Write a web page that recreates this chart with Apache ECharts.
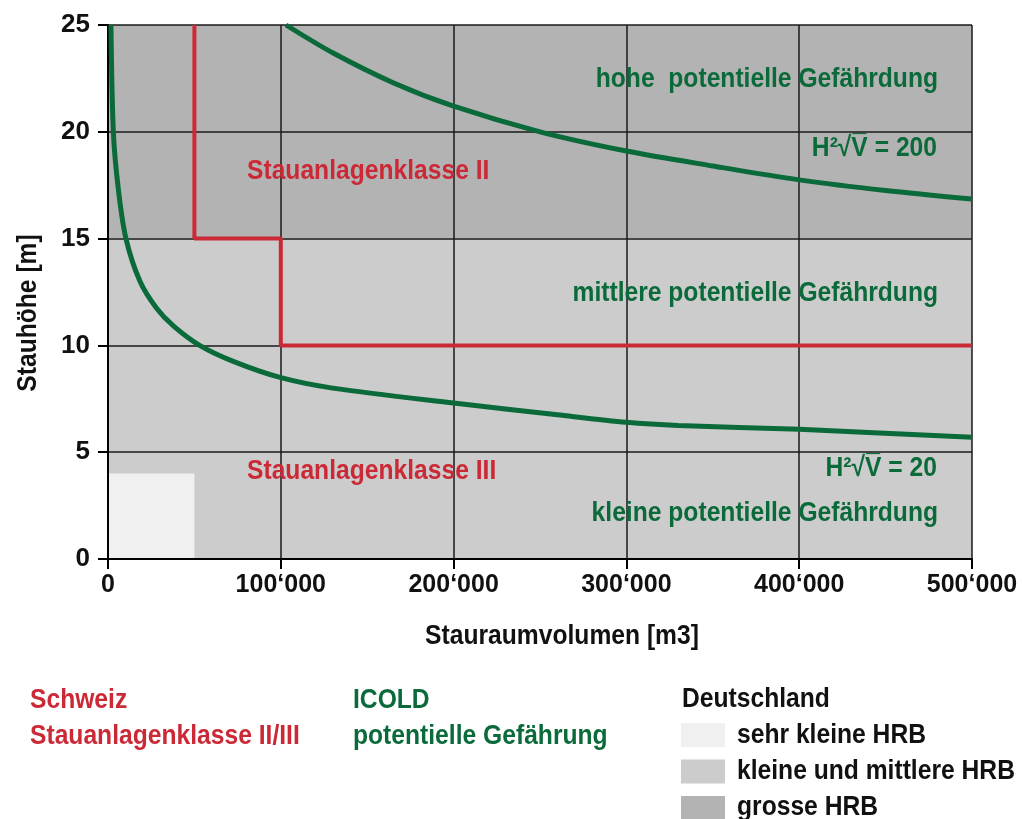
<!DOCTYPE html>
<html>
<head>
<meta charset="utf-8">
<script src="https://cdn.jsdelivr.net/npm/echarts@6/dist/echarts.min.js"></script>
<style>html,body{margin:0;padding:0;background:#fff;}#c{width:1022px;height:819px;}</style>
</head>
<body>
<div id="c"></div>
<script>
// ---- data ----
const xTicks = [0, 100000, 200000, 300000, 400000, 500000];
const yTicks = [0, 5, 10, 15, 20, 25];
// HRB zones (Deutschland): [x0, x1, y0, y1, colourIndex]
const zoneNames = ['sehr kleine HRB', 'kleine und mittlere HRB', 'grosse HRB'];
const hrbZones = [
  [0, 500000, 0, 15, 1],
  [0, 500000, 15, 25, 2],
  [0, 50000, 0, 4, 0]
];
// Schweiz Stauanlagenklasse II/III boundary
const swissBoundary = [[50000, 25], [50000, 15], [100000, 15], [100000, 10], [500000, 10]];
// ICOLD H²√V = 200
const icold200 = [[103000, 25.0], [130000, 23.7], [165000, 22.3], [200000, 21.2], [250000, 20.0], [300000, 19.1], [350000, 18.4], [400000, 17.75], [450000, 17.25], [500000, 16.85]];
// ICOLD H²√V = 20
const icold20 = [[1700, 25], [3100, 20], [6000, 17.3], [10400, 15], [18500, 13.0], [28000, 11.75], [38000, 10.9], [53000, 10.0], [72500, 9.25], [99500, 8.5], [130000, 8.0], [200000, 7.3], [260000, 6.75], [300000, 6.4], [330000, 6.25], [400000, 6.07], [500000, 5.7]];

// ---- styles ----
const FAM = '"Liberation Sans", Arial, sans-serif';
const RED = '#cc2936';
const GREEN = '#0b6a3a';
const zoneColors = ['#f0f0f0', '#cccccc', '#b3b3b3'];
const font = (s) => 'bold ' + s + 'px ' + FAM;

function txt(text, x, y, color, align, size, rot) {
  return {
    type: 'text', x: x, y: y, rotation: rot || 0, z: 50,
    scaleX: 0.88, scaleY: 1,
    style: { text: text, fill: color, font: font(size || 28), align: align || 'left', verticalAlign: 'middle' }
  };
}

const chart = echarts.init(document.getElementById('c'), null, { renderer: 'canvas' });
const graphic = [
  txt('Stauraumvolumen [m3]', 562, 636, '#111', 'center'),
  txt('Stauhöhe [m]', 28, 313, '#111', 'center', 28, Math.PI / 2),
  txt('hohe  potentielle Gefährdung', 938, 79, GREEN, 'right'),
  txt('H²√V\u0305 = 200', 937, 148, GREEN, 'right'),
  txt('mittlere potentielle Gefährdung', 938, 293, GREEN, 'right'),
  txt('H²√V\u0305 = 20', 937, 468, GREEN, 'right'),
  txt('kleine potentielle Gefährdung', 938, 513, GREEN, 'right'),
  txt('Stauanlagenklasse II', 247, 171, RED, 'left'),
  txt('Stauanlagenklasse III', 247, 471, RED, 'left'),
  txt('Schweiz', 30, 700, RED, 'left'),
  txt('Stauanlagenklasse II/III', 30, 736, RED, 'left'),
  txt('ICOLD', 353, 700, GREEN, 'left'),
  txt('potentielle Gefährung', 353, 736, GREEN, 'left'),
  txt('Deutschland', 682, 699, '#111', 'left')
];
zoneNames.forEach(function (n, i) {
  graphic.push({ type: 'rect', shape: { x: 681, y: 723 + i * 36.5, width: 44, height: 24 }, style: { fill: zoneColors[i] }, z: 50 });
  graphic.push(txt(n, 737, 735 + i * 36, '#111', 'left'));
});

chart.setOption({
  animation: false,
  backgroundColor: '#fff',
  grid: { left: 108, right: 50, top: 25, bottom: 260, outerBoundsMode: 'none', containLabel: false },
  xAxis: {
    type: 'value', min: xTicks[0], max: xTicks[xTicks.length - 1], interval: xTicks[1] - xTicks[0], z: 3,
    axisLine: { show: true, lineStyle: { color: '#000', width: 2 } },
    axisTick: { show: true, length: 10, lineStyle: { color: '#000', width: 2 } },
    splitLine: { show: true, lineStyle: { color: '#1a1a1a', width: 1.5 } },
    axisLabel: { margin: 14, color: '#111', fontFamily: FAM, fontWeight: 'bold', fontSize: 25,
      formatter: function (v) { return v === 0 ? '0' : (v / 1000) + '\u2018000'; } }
  },
  yAxis: {
    type: 'value', min: yTicks[0], max: yTicks[yTicks.length - 1], interval: yTicks[1] - yTicks[0], z: 3,
    axisLine: { show: true, lineStyle: { color: '#000', width: 2 } },
    axisTick: { show: true, length: 10, lineStyle: { color: '#000', width: 2 } },
    splitLine: { show: true, lineStyle: { color: '#1a1a1a', width: 1.5 } },
    axisLabel: { margin: 18, color: '#111', fontFamily: FAM, fontWeight: 'bold', fontSize: 26 }
  },
  graphic: graphic,
  series: [
    {
      type: 'custom', z: 1, silent: true,
      encode: { x: [0, 1], y: [2, 3] },
      data: hrbZones,
      renderItem: function (params, api) {
        const p0 = api.coord([api.value(0), api.value(3)]);
        const p1 = api.coord([api.value(1), api.value(2)]);
        return { type: 'rect', shape: { x: p0[0], y: p0[1], width: p1[0] - p0[0], height: p1[1] - p0[1] },
          style: { fill: zoneColors[api.value(4)] } };
      }
    },
    { type: 'line', z: 5, data: swissBoundary, showSymbol: false, lineStyle: { color: RED, width: 4 } },
    { type: 'line', z: 6, data: icold200, showSymbol: false, smooth: 0.3, lineStyle: { color: GREEN, width: 5 } },
    { type: 'line', z: 6, data: icold20, showSymbol: false, smooth: 0.3, lineStyle: { color: GREEN, width: 5 } }
  ]
});
</script>
</body>
</html>
